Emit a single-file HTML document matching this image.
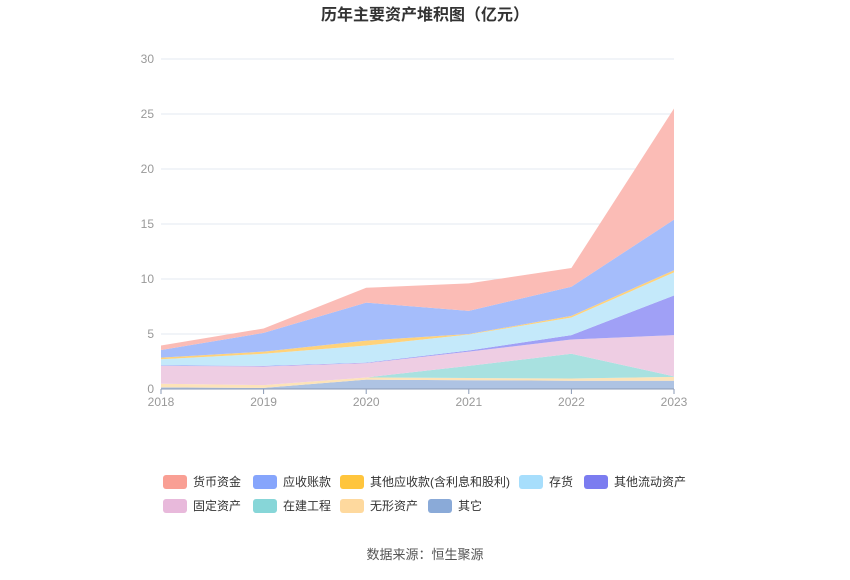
<!DOCTYPE html>
<html><head><meta charset="utf-8"><style>
body{margin:0;background:#fff;font-family:"Liberation Sans","Noto Sans CJK SC",sans-serif;}
</style></head><body>
<svg width="850" height="575" xmlns="http://www.w3.org/2000/svg" id="chart" style="font-family:'Liberation Sans','Noto Sans CJK SC',sans-serif">
<text x="425" y="20" text-anchor="middle" font-size="16" font-weight="bold" fill="#333">历年主要资产堆积图（亿元）</text>
<g id="grid"></g><g id="areas"></g><g id="axes"></g><g id="legend"></g>
<text x="425" y="559" text-anchor="middle" font-size="13" fill="#555">数据来源：恒生聚源</text>
</svg>
<script>
const years=['2018','2019','2020','2021','2022','2023'];
const yTicks=[0,5,10,15,20,25,30];
const seriesNames=['其它','无形资产','在建工程','固定资产','其他流动资产','存货','其他应收款(含利息和股利)','应收账款','货币资金'];
const sOther=[0.15,0.1,0.85,0.8,0.75,0.75];
const sIntangible=[0.33,0.25,0.2,0.2,0.2,0.35];
const sConstruction=[0,0,0,1.1,2.25,0.05];
const sFixed=[1.62,1.7,1.3,1.3,1.3,3.75];
const sOtherCurrent=[0.05,0.05,0.05,0.1,0.4,3.6];
const sInventory=[0.55,1.1,1.55,1.45,1.6,2.1];
const sOtherRecv=[0.15,0.2,0.45,0.05,0.15,0.2];
const sRecv=[0.7,1.7,3.45,2.1,2.65,4.6];
const sCash=[0.4,0.4,1.35,2.5,1.7,10.1];
const seriesData=[sOther,sIntangible,sConstruction,sFixed,sOtherCurrent,sInventory,sOtherRecv,sRecv,sCash];
const fills=['#aec3e3','#fde3b8','#a8e1e0','#eecde3','#a0a0f6','#c4e9fa','#ffd27a','#a5bdfb','#fbbcb6'];
const legendColors={'货币资金':'#f99f94','应收账款':'#86a5fc','其他应收款(含利息和股利)':'#ffc53d','存货':'#a7defc','其他流动资产':'#7b7cf0','固定资产':'#e8b9db','在建工程':'#87d6d8','无形资产':'#fed99e','其它':'#8aaad8'};
const slugs=['other','intangible','construction','fixed','other-current','inventory','other-receivables','receivables','cash'];
const NS='http://www.w3.org/2000/svg';
const X=i=>161+i*(674-161)/(years.length-1);
const Y=v=>389-v*(330/30);
function mk(t,a,p){const e=document.createElementNS(NS,t);for(const k in a)e.setAttribute(k,a[k]);p.appendChild(e);return e;}
const grid=document.getElementById('grid'),axes=document.getElementById('axes'),areas=document.getElementById('areas'),legend=document.getElementById('legend');
yTicks.forEach(t=>{
 if(t>0){const l=mk('line',{x1:161,x2:674,y1:Y(t),y2:Y(t),stroke:'#e3e8f0','stroke-width':1},grid);
 
 }
 const tx=mk('text',{x:154,y:Y(t)+4,'text-anchor':'end','font-size':12,fill:'#999'},axes);tx.textContent=t;
 
 
});
let cum=years.map(()=>0);
seriesData.forEach((s,k)=>{
 const low=cum.slice();const high=cum.map((c,i)=>c+s[i]);
 let d='M'+years.map((_,i)=>X(i)+','+Y(high[i])).join('L');
 for(let i=years.length-1;i>=0;i--)d+='L'+X(i)+','+Y(low[i]);
 const p=mk('path',{d:d+'Z',fill:fills[k]},areas);
 
 
 cum=high;
});
const ax=mk('line',{x1:161,x2:674,y1:389,y2:389,stroke:'#8a9ab5','stroke-width':1},axes);


years.forEach((y,i)=>{
 const tk=mk('line',{x1:X(i),x2:X(i),y1:389,y2:394,stroke:'#8a9ab5'},axes);
 
 
 const t=mk('text',{x:X(i),y:406,'text-anchor':'middle','font-size':12,fill:'#999'},axes);t.textContent=y;
 
 
});
const rows=[[['货币资金',163],['应收账款',253],['其他应收款(含利息和股利)',340],['存货',519],['其他流动资产',584]],[['固定资产',163],['在建工程',253],['无形资产',340],['其它',428]]];
rows.forEach((r,ri)=>r.forEach(([n,x])=>{
 const g=mk('g',{},legend);
 
 
 mk('rect',{x:x,y:475+ri*24,width:24,height:14,rx:3,fill:legendColors[n]},g);
 const t=mk('text',{x:x+30,y:486+ri*24,'font-size':12,fill:'#333'},g);t.textContent=n;
}));
</script>
</body></html>
